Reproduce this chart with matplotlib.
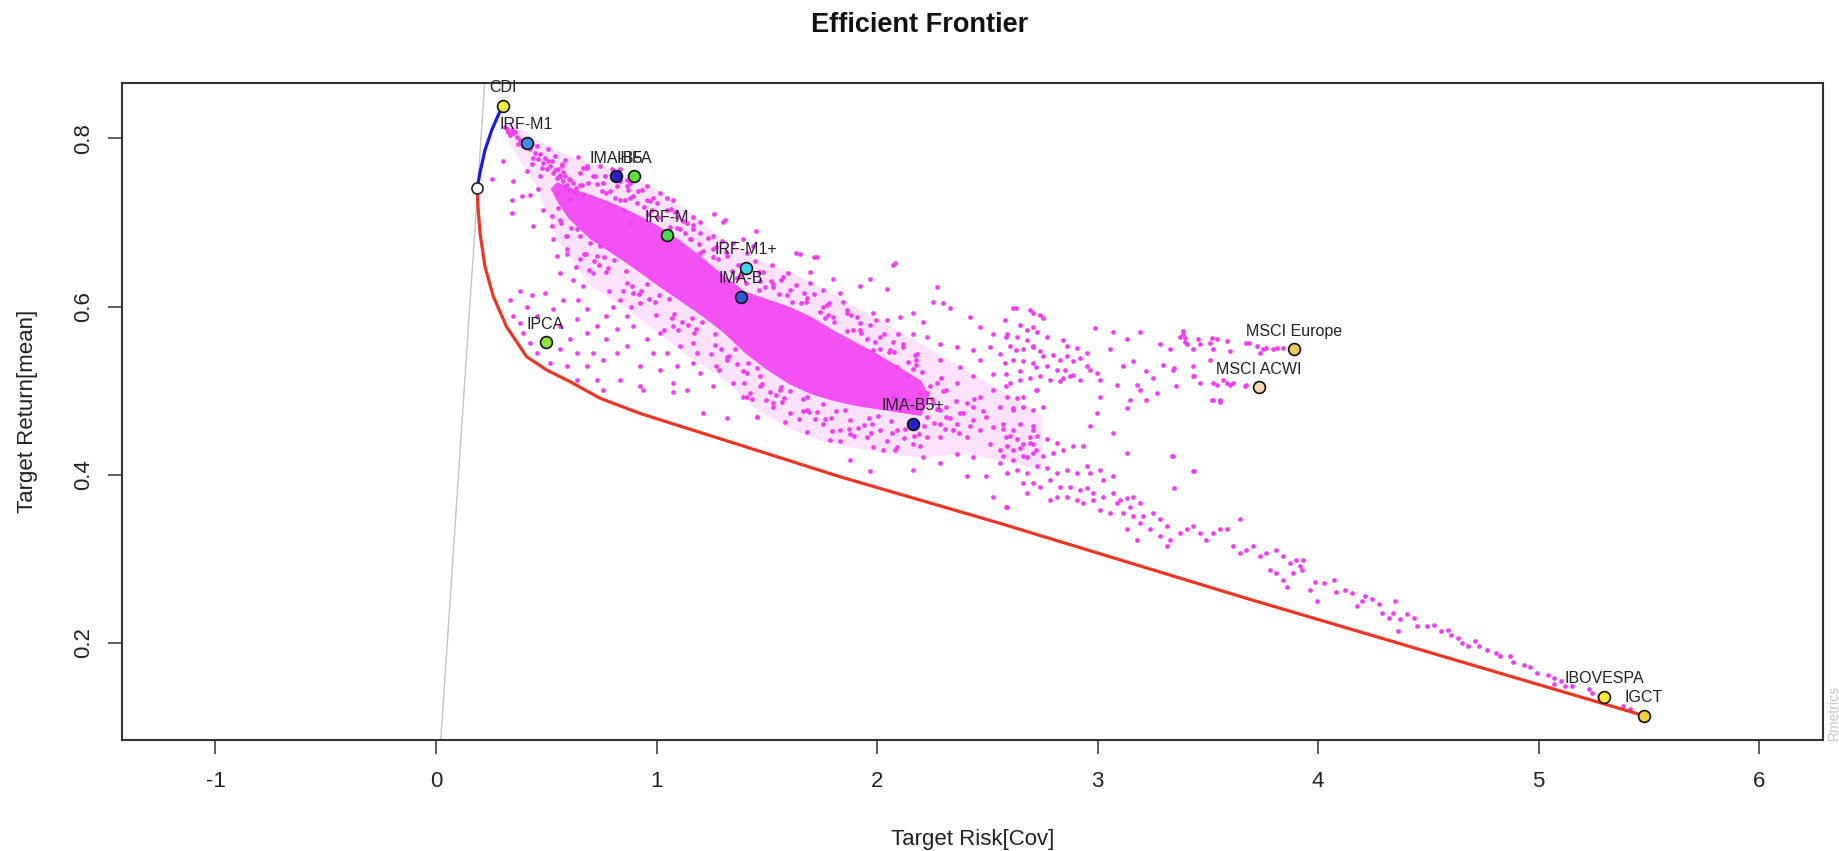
import matplotlib
matplotlib.use("Agg")
import matplotlib.pyplot as plt

plt.rcParams['font.family'] = ['Liberation Sans', 'DejaVu Sans']
plt.rcParams['axes.unicode_minus'] = False

# ---------------- data ----------------
asset_names = ['CDI', 'IRF-M1', 'IMA-B5', 'IHFA', 'IRF-M', 'IRF-M1+', 'IMA-B', 'IPCA',
               'IMA-B5+', 'MSCI Europe', 'MSCI ACWI', 'IBOVESPA', 'IGCT']
asset_risk = [0.302, 0.411, 0.815, 0.898, 1.046, 1.405, 1.383, 0.497,
              2.161, 3.893, 3.733, 5.298, 5.478]
asset_return = [0.8385, 0.795, 0.755, 0.755, 0.685, 0.646, 0.612, 0.5575,
                0.461, 0.549, 0.504, 0.136, 0.1136]
asset_colors = ['#F2EC3A', '#3F8FE8', '#2A1FC0', '#5BE03A', '#4FD84F', '#44D4EE', '#2F5AD8',
                '#8EE83A', '#2222C8', '#F0C860', '#F8D8B0', '#F8F030', '#F0D040']

minvar_risk, minvar_return = 0.187, 0.741

efficient_risk = [0.187, 0.200, 0.222, 0.253, 0.283, 0.302]
efficient_return = [0.741, 0.760, 0.786, 0.810, 0.828, 0.8385]

lower_risk = [0.187, 0.190, 0.200, 0.222, 0.260, 0.320, 0.411, 0.502, 0.608, 0.744,
              0.925, 1.379, 1.832, 2.558, 3.677, 5.478]
lower_return = [0.741, 0.720, 0.687, 0.6475, 0.612, 0.576, 0.5404, 0.5246, 0.5107, 0.491,
                0.473, 0.4354, 0.3977, 0.3423, 0.253, 0.1136]

riskfree_rate = 0.0
tangency_slope = 3.92

# Monte-Carlo portfolios (risk, return), read region by region
mc_upper_arm = [
    (0.313, 0.814), (0.321, 0.811), (0.343, 0.810), (0.358, 0.808), (0.328, 0.808), (0.336, 0.804),
    (0.351, 0.806), (0.366, 0.802), (0.381, 0.798), (0.373, 0.793), (0.396, 0.791), (0.426, 0.787),
    (0.449, 0.783), (0.441, 0.777), (0.464, 0.775), (0.487, 0.771), (0.479, 0.765), (0.502, 0.763),
    (0.517, 0.767), (0.532, 0.759), (0.547, 0.753), (0.562, 0.757), (0.577, 0.749), (0.592, 0.745),
    (0.607, 0.751), (0.509, 0.787), (0.539, 0.779), (0.456, 0.791), (0.419, 0.798), (0.404, 0.796),
    (0.434, 0.793), (0.471, 0.781), (0.494, 0.777), (0.524, 0.773), (0.554, 0.763), (0.570, 0.767),
    (0.585, 0.755), (0.622, 0.747), (0.637, 0.741), (0.653, 0.745), (0.630, 0.735), (0.668, 0.733),
    (0.607, 0.739), (0.585, 0.743),
]
mc_left_scatter = [
    (0.252, 0.752), (0.305, 0.773), (0.351, 0.749), (0.343, 0.727), (0.343, 0.711), (0.388, 0.731),
    (0.426, 0.733), (0.464, 0.740), (0.434, 0.769), (0.509, 0.773), (0.411, 0.761), (0.471, 0.755),
    (0.547, 0.735), (0.607, 0.727), (0.487, 0.715), (0.441, 0.696), (0.524, 0.696), (0.562, 0.703),
    (0.532, 0.680), (0.592, 0.684), (0.638, 0.692), (0.547, 0.660), (0.592, 0.662), (0.653, 0.656),
    (0.562, 0.640), (0.622, 0.632), (0.494, 0.616), (0.434, 0.614), (0.381, 0.618), (0.336, 0.608),
    (0.411, 0.600), (0.351, 0.589), (0.456, 0.589), (0.532, 0.597), (0.577, 0.608), (0.645, 0.608),
    (0.668, 0.624), (0.713, 0.640), (0.728, 0.660), (0.743, 0.672), (0.698, 0.676), (0.683, 0.597),
    (0.638, 0.585), (0.562, 0.577), (0.607, 0.561), (0.683, 0.569), (0.728, 0.577), (0.773, 0.589),
    (0.804, 0.600), (0.834, 0.608), (0.894, 0.616), (0.925, 0.604), (0.864, 0.589), (0.894, 0.577),
    (0.819, 0.573), (0.773, 0.561), (0.713, 0.545), (0.638, 0.545), (0.562, 0.549), (0.517, 0.533),
    (0.456, 0.545), (0.426, 0.557), (0.396, 0.569), (0.381, 0.581), (0.592, 0.529), (0.683, 0.529),
    (0.758, 0.537), (0.819, 0.545), (0.864, 0.553), (0.955, 0.561), (1.016, 0.569), (1.076, 0.577),
    (0.985, 0.545), (1.046, 0.545), (1.106, 0.553), (1.167, 0.557), (0.925, 0.529), (1.016, 0.525),
    (1.091, 0.529), (1.167, 0.533), (1.197, 0.521), (1.272, 0.529), (1.318, 0.537), (0.834, 0.513),
    (0.925, 0.505), (1.076, 0.509), (1.136, 0.501), (1.257, 0.505), (1.348, 0.509), (1.409, 0.521),
    (1.424, 0.497), (0.638, 0.513), (0.728, 0.513), (0.758, 0.501), (1.211, 0.473), (1.318, 0.467),
    (1.454, 0.469), (1.075, 0.499), (0.939, 0.501), (1.392, 0.493), (1.528, 0.481),
]
mc_upper_fringe = [
    (0.683, 0.767), (0.713, 0.755), (0.758, 0.747), (0.819, 0.743), (0.864, 0.743), (0.879, 0.747),
    (0.894, 0.731), (0.834, 0.727), (0.773, 0.735), (0.932, 0.739), (0.955, 0.727), (1.000, 0.723),
    (1.046, 0.715), (1.091, 0.707), (1.136, 0.699), (1.167, 0.692), (1.197, 0.688), (1.257, 0.684),
    (1.302, 0.701), (1.348, 0.676), (1.393, 0.680), (1.439, 0.672), (1.409, 0.664), (1.197, 0.664),
    (1.151, 0.680), (1.076, 0.727), (1.167, 0.707), (1.016, 0.735), (1.106, 0.692), (1.257, 0.668),
    (1.318, 0.660), (0.955, 0.743), (0.910, 0.723), (0.849, 0.715), (0.879, 0.699), (0.834, 0.763),
    (0.864, 0.751), (0.743, 0.767), (0.653, 0.759), (1.311, 0.703), (1.716, 0.659), (2.080, 0.652),
    (1.633, 0.664), (1.450, 0.690), (1.260, 0.710),
]
mc_band_edges = [
    (0.563, 0.754), (0.541, 0.762), (0.571, 0.770), (0.555, 0.717), (0.528, 0.708), (0.566, 0.699),
    (0.583, 0.774), (0.605, 0.752), (0.578, 0.760), (0.596, 0.669), (0.613, 0.693), (0.591, 0.684),
    (0.666, 0.765), (0.646, 0.778), (0.663, 0.744), (0.671, 0.662), (0.633, 0.647), (0.655, 0.684),
    (0.691, 0.747), (0.721, 0.755), (0.683, 0.765), (0.678, 0.663), (0.716, 0.654), (0.696, 0.644),
    (0.755, 0.738), (0.728, 0.746), (0.766, 0.755), (0.763, 0.659), (0.741, 0.650), (0.771, 0.641),
    (0.796, 0.763), (0.813, 0.729), (0.791, 0.737), (0.783, 0.618), (0.805, 0.655), (0.778, 0.646),
    (0.871, 0.739), (0.833, 0.749), (0.855, 0.727), (0.866, 0.628), (0.846, 0.618), (0.863, 0.642),
    (0.878, 0.729), (0.916, 0.738), (0.896, 0.751), (0.891, 0.624), (0.921, 0.615), (0.883, 0.600),
    (0.963, 0.710), (0.941, 0.718), (0.971, 0.726), (0.955, 0.627), (0.928, 0.618), (0.966, 0.609),
    (0.983, 0.729), (1.005, 0.707), (0.978, 0.715), (0.996, 0.590), (1.013, 0.614), (0.991, 0.605),
    (1.066, 0.716), (1.046, 0.729), (1.063, 0.695), (1.071, 0.587), (1.033, 0.572), (1.055, 0.609),
    (1.091, 0.694), (1.121, 0.702), (1.083, 0.712), (1.078, 0.591), (1.116, 0.582), (1.096, 0.572),
    (1.155, 0.680), (1.128, 0.688), (1.166, 0.697), (1.163, 0.587), (1.141, 0.578), (1.171, 0.569),
    (1.196, 0.700), (1.213, 0.666), (1.191, 0.674), (1.183, 0.545), (1.205, 0.582), (1.178, 0.573),
    (1.271, 0.671), (1.233, 0.681), (1.255, 0.659), (1.266, 0.554), (1.246, 0.544), (1.263, 0.568),
    (1.278, 0.656), (1.316, 0.665), (1.296, 0.678), (1.291, 0.549), (1.321, 0.540), (1.283, 0.525),
    (1.363, 0.634), (1.341, 0.642), (1.371, 0.650), (1.355, 0.550), (1.328, 0.541), (1.366, 0.532),
    (1.383, 0.650), (1.405, 0.628), (1.378, 0.636), (1.396, 0.509), (1.413, 0.533), (1.391, 0.524),
    (1.466, 0.641), (1.446, 0.654), (1.463, 0.620), (1.471, 0.505), (1.433, 0.490), (1.455, 0.527),
    (1.491, 0.623), (1.521, 0.631), (1.483, 0.641), (1.478, 0.508), (1.516, 0.499), (1.496, 0.489),
    (1.555, 0.615), (1.528, 0.623), (1.566, 0.632), (1.563, 0.504), (1.541, 0.495), (1.571, 0.486),
    (1.596, 0.640), (1.613, 0.606), (1.591, 0.614), (1.583, 0.463), (1.605, 0.500), (1.578, 0.491),
    (1.671, 0.616), (1.633, 0.626), (1.655, 0.604), (1.666, 0.476), (1.646, 0.466), (1.663, 0.490),
    (1.678, 0.606), (1.716, 0.615), (1.696, 0.628), (1.691, 0.475), (1.721, 0.466), (1.683, 0.451),
    (1.763, 0.586), (1.741, 0.594), (1.771, 0.602), (1.755, 0.484), (1.728, 0.475), (1.766, 0.466),
    (1.783, 0.604), (1.805, 0.582), (1.778, 0.590), (1.796, 0.452), (1.813, 0.476), (1.791, 0.467),
    (1.866, 0.592), (1.846, 0.605), (1.863, 0.571), (1.871, 0.455), (1.833, 0.440), (1.855, 0.477),
    (1.891, 0.572), (1.921, 0.580), (1.883, 0.590), (1.878, 0.465), (1.916, 0.456), (1.896, 0.446),
    (1.955, 0.561), (1.928, 0.569), (1.966, 0.578), (1.963, 0.468), (1.941, 0.459), (1.971, 0.450),
    (1.996, 0.584), (2.013, 0.550), (1.991, 0.558), (1.983, 0.433), (2.005, 0.470), (1.978, 0.461),
    (2.071, 0.558), (2.033, 0.568), (2.055, 0.546), (2.066, 0.450), (2.046, 0.440), (2.063, 0.464),
    (2.078, 0.546), (2.116, 0.555), (2.096, 0.568), (2.091, 0.453), (2.121, 0.444), (2.083, 0.429),
    (2.163, 0.526), (2.141, 0.534), (2.171, 0.542), (2.155, 0.464), (2.128, 0.455), (2.166, 0.446),
    (2.183, 0.544), (2.205, 0.522), (2.178, 0.530), (2.196, 0.434), (2.213, 0.458), (2.191, 0.449),
    (2.250, 0.490), (2.270, 0.478), (2.300, 0.500), (2.330, 0.468), (2.360, 0.488), (2.390, 0.474),
    (2.420, 0.458), (2.260, 0.462), (2.310, 0.455), (2.370, 0.450), (2.440, 0.490), (2.480, 0.476),
    (2.240, 0.505), (2.290, 0.515),
]
mc_mid_upper = [
    (1.522, 0.649), (1.651, 0.663), (1.726, 0.659), (2.074, 0.649), (1.696, 0.641), (1.802, 0.633),
    (1.968, 0.633), (2.043, 0.621), (1.923, 0.625), (1.832, 0.616), (1.757, 0.620), (1.681, 0.610),
    (2.270, 0.623), (2.255, 0.606), (2.300, 0.604), (2.330, 0.598), (2.164, 0.592), (2.210, 0.582),
    (2.104, 0.588), (2.043, 0.584), (1.983, 0.592), (1.908, 0.588), (1.862, 0.596), (2.421, 0.588),
    (2.466, 0.576), (2.527, 0.568), (2.632, 0.598), (2.708, 0.592), (2.678, 0.572), (2.587, 0.564),
    (2.512, 0.552), (2.436, 0.548), (2.361, 0.552), (2.285, 0.556), (2.225, 0.564), (2.164, 0.568),
    (2.119, 0.552), (2.179, 0.536), (2.285, 0.536), (2.376, 0.528), (2.466, 0.536), (2.557, 0.544),
    (2.632, 0.548), (2.708, 0.552), (2.723, 0.528), (2.647, 0.524), (2.587, 0.520), (2.527, 0.520),
    (2.436, 0.517), (2.361, 0.509), (2.315, 0.501), (2.527, 0.501), (2.587, 0.505), (2.662, 0.493),
    (2.723, 0.501), (2.617, 0.477), (2.557, 0.481), (2.466, 0.493), (2.406, 0.485), (2.708, 0.477),
    (1.530, 0.627), (1.606, 0.620), (1.470, 0.631), (1.575, 0.635), (1.757, 0.600), (1.802, 0.588),
    (1.923, 0.572), (2.013, 0.564), (2.059, 0.548), (1.983, 0.548), (2.089, 0.528), (2.134, 0.517),
]
mc_mid_lower = [
    (1.409, 0.493), (1.455, 0.469), (1.530, 0.485), (1.606, 0.473), (1.681, 0.477), (1.757, 0.461),
    (1.832, 0.453), (1.877, 0.449), (1.787, 0.441), (1.953, 0.445), (2.013, 0.453), (2.089, 0.433),
    (2.164, 0.437), (2.225, 0.445), (2.285, 0.445), (2.210, 0.421), (2.164, 0.406), (2.285, 0.414),
    (2.361, 0.425), (2.436, 0.421), (2.496, 0.398), (2.406, 0.398), (2.557, 0.414), (2.617, 0.429),
    (2.678, 0.421), (2.708, 0.437), (2.527, 0.374), (2.587, 0.362), (2.662, 0.390), (2.708, 0.390),
    (1.877, 0.418), (1.968, 0.404), (2.028, 0.429), (1.470, 0.517), (1.560, 0.501), (1.681, 0.493),
    (2.285, 0.477), (2.315, 0.469), (2.361, 0.461), (2.436, 0.465), (2.466, 0.453), (2.527, 0.457),
    (2.587, 0.445), (2.617, 0.453), (2.662, 0.437), (2.693, 0.445), (2.723, 0.429), (2.512, 0.437),
    (2.557, 0.429), (2.406, 0.445), (2.345, 0.453), (2.285, 0.461), (2.376, 0.473), (2.436, 0.481),
    (2.496, 0.469), (2.572, 0.461), (2.647, 0.461), (2.708, 0.453), (2.074, 0.493), (2.134, 0.489),
    (2.194, 0.497), (2.255, 0.485), (2.164, 0.481), (2.104, 0.477), (2.225, 0.469), (2.315, 0.481),
    (2.225, 0.497), (2.270, 0.509),
]
mc_right_branch = [
    (2.618, 0.598), (2.694, 0.596), (2.739, 0.590), (2.581, 0.584), (2.649, 0.578), (2.709, 0.576),
    (2.754, 0.586), (2.588, 0.568), (2.634, 0.564), (2.679, 0.560), (2.724, 0.570), (2.769, 0.564),
    (2.603, 0.553), (2.664, 0.549), (2.709, 0.553), (2.739, 0.547), (2.754, 0.541), (2.800, 0.543),
    (2.830, 0.537), (2.860, 0.541), (2.890, 0.535), (2.920, 0.539), (2.951, 0.545), (2.860, 0.553),
    (2.905, 0.551), (2.845, 0.560), (2.581, 0.533), (2.618, 0.537), (2.664, 0.535), (2.709, 0.533),
    (2.769, 0.529), (2.815, 0.525), (2.852, 0.525), (2.890, 0.519), (2.951, 0.529), (2.966, 0.525),
    (2.996, 0.521), (3.011, 0.513), (2.603, 0.509), (2.649, 0.513), (2.694, 0.515), (2.739, 0.517),
    (2.785, 0.513), (2.830, 0.511), (2.724, 0.501), (2.588, 0.493), (2.634, 0.491), (2.664, 0.481),
    (2.618, 0.479), (2.754, 0.481), (2.845, 0.515), (2.875, 0.517), (2.920, 0.513),
    (2.988, 0.574), (3.071, 0.570), (3.132, 0.562), (3.192, 0.570), (3.056, 0.549), (3.117, 0.529),
    (3.162, 0.535), (3.222, 0.523), (3.253, 0.515), (3.177, 0.507), (3.087, 0.507), (3.011, 0.493),
    (3.147, 0.489), (3.192, 0.501), (3.222, 0.489), (3.132, 0.479), (3.283, 0.555), (3.328, 0.549),
    (3.374, 0.564), (3.396, 0.558), (3.389, 0.568), (3.404, 0.556), (3.343, 0.525), (3.298, 0.531),
    (3.358, 0.505), (3.434, 0.549), (3.465, 0.555), (3.509, 0.557), (3.540, 0.562), (3.524, 0.549),
    (3.585, 0.559), (3.600, 0.547), (3.509, 0.537), (3.434, 0.517), (3.465, 0.509), (3.524, 0.509),
    (3.570, 0.513), (3.600, 0.507), (3.524, 0.489), (3.555, 0.489), (3.675, 0.557), (3.721, 0.553),
    (3.751, 0.549), (3.796, 0.549), (3.842, 0.551), (3.675, 0.507), (3.615, 0.509), (3.434, 0.529),
    (3.268, 0.497), (3.736, 0.545), (3.766, 0.551), (3.540, 0.507), (3.585, 0.509), (3.668, 0.505),
    (3.387, 0.571), (3.397, 0.563), (3.457, 0.561), (3.517, 0.563), (3.686, 0.557), (3.815, 0.551),
    (3.347, 0.527), (3.437, 0.517), (3.517, 0.489), (3.557, 0.487), (3.338, 0.422), (3.437, 0.404),
    (3.347, 0.384),
]
mc_lower_band = [
    (2.573, 0.454), (2.603, 0.446), (2.634, 0.442), (2.588, 0.434), (2.649, 0.432), (2.694, 0.438),
    (2.724, 0.446), (2.769, 0.442), (2.815, 0.438), (2.573, 0.422), (2.618, 0.418), (2.664, 0.422),
    (2.709, 0.426), (2.754, 0.422), (2.800, 0.426), (2.845, 0.430), (2.890, 0.434), (2.935, 0.434),
    (2.588, 0.402), (2.634, 0.406), (2.679, 0.402), (2.724, 0.410), (2.769, 0.408), (2.815, 0.402),
    (2.860, 0.406), (2.905, 0.402), (2.951, 0.410), (2.966, 0.402), (3.011, 0.406), (3.026, 0.394),
    (3.071, 0.398), (2.785, 0.394), (2.830, 0.386), (2.875, 0.386), (2.920, 0.382), (2.951, 0.384),
    (2.981, 0.378), (3.026, 0.374), (3.071, 0.378), (3.102, 0.370), (3.132, 0.372), (3.162, 0.374),
    (3.192, 0.366), (3.147, 0.362), (3.087, 0.366), (2.679, 0.378), (2.739, 0.386), (2.785, 0.370),
    (2.815, 0.374), (2.860, 0.374), (2.905, 0.370), (2.935, 0.366), (2.981, 0.370), (3.011, 0.358),
    (3.056, 0.355), (3.117, 0.355), (3.162, 0.351), (3.207, 0.351), (3.253, 0.355), (3.283, 0.347),
    (3.313, 0.339), (3.238, 0.335), (3.192, 0.343), (3.132, 0.335), (3.283, 0.327), (3.328, 0.323),
    (3.374, 0.331), (3.404, 0.335), (3.434, 0.339), (3.465, 0.331), (3.494, 0.323), (3.524, 0.331),
    (3.555, 0.335), (3.585, 0.335), (3.615, 0.315), (3.645, 0.307), (3.675, 0.311), (3.706, 0.315),
    (3.736, 0.303), (3.766, 0.307), (3.811, 0.311), (3.842, 0.303), (3.872, 0.295), (3.902, 0.299),
    (3.781, 0.287), (3.811, 0.283), (3.842, 0.275), (3.857, 0.267), (3.887, 0.283), (3.918, 0.291),
    (2.588, 0.362), (2.709, 0.458), (2.966, 0.458), (2.996, 0.473), (3.071, 0.450), (3.132, 0.426),
    (3.343, 0.422), (3.434, 0.404), (3.645, 0.347), (3.313, 0.315), (3.177, 0.323),
]
mc_tail = [
    (3.934, 0.299), (3.926, 0.287), (3.965, 0.263), (3.988, 0.273), (3.996, 0.250), (4.027, 0.271),
    (4.074, 0.275), (4.082, 0.261), (4.121, 0.263), (4.152, 0.260), (4.175, 0.244), (4.199, 0.250),
    (4.214, 0.256), (4.246, 0.252), (4.277, 0.246), (4.292, 0.236), (4.324, 0.230), (4.347, 0.250),
    (4.339, 0.236), (4.363, 0.214), (4.370, 0.228), (4.402, 0.234), (4.433, 0.230), (4.448, 0.220),
    (4.495, 0.220), (4.526, 0.222), (4.558, 0.214), (4.589, 0.216), (4.604, 0.210), (4.636, 0.206),
    (4.651, 0.200), (4.682, 0.196), (4.714, 0.202), (4.729, 0.196), (4.768, 0.192), (4.807, 0.188),
    (4.823, 0.184), (4.870, 0.184), (4.885, 0.178), (4.932, 0.174), (4.963, 0.172), (4.994, 0.164),
    (5.041, 0.162), (5.072, 0.158), (5.104, 0.155), (5.072, 0.151), (5.119, 0.149), (5.150, 0.149),
    (5.228, 0.145), (5.244, 0.141), (5.275, 0.137), (5.384, 0.125), (5.416, 0.121),
]
# outline of the region where the Monte-Carlo points overlap into a solid mass
mc_dense_upper = [(0.52, 0.740), (0.55, 0.748), (0.60, 0.742), (0.70, 0.733), (0.80, 0.723),
                  (0.90, 0.711), (1.00, 0.697), (1.10, 0.680), (1.20, 0.660), (1.30, 0.638),
                  (1.40, 0.618), (1.50, 0.609), (1.60, 0.600), (1.70, 0.588), (1.80, 0.572),
                  (1.90, 0.558), (2.00, 0.544), (2.10, 0.528), (2.20, 0.512), (2.24, 0.492)]
mc_dense_lower = [(2.20, 0.470), (2.10, 0.474), (2.00, 0.478), (1.90, 0.482), (1.80, 0.488),
                  (1.70, 0.496), (1.60, 0.508), (1.50, 0.525), (1.40, 0.545), (1.30, 0.570),
                  (1.20, 0.590), (1.10, 0.608), (1.00, 0.626), (0.90, 0.645), (0.80, 0.663),
                  (0.70, 0.680), (0.60, 0.705), (0.55, 0.725)]
mc_halo_upper = [(0.33, 0.822), (0.45, 0.800), (0.55, 0.785), (0.70, 0.770), (0.85, 0.758),
                 (1.00, 0.740), (1.15, 0.712), (1.30, 0.680), (1.45, 0.656), (1.60, 0.642),
                 (1.75, 0.622), (1.90, 0.600), (2.05, 0.578), (2.20, 0.555), (2.40, 0.525),
                 (2.60, 0.495), (2.75, 0.470)]
mc_halo_lower = [(2.75, 0.405), (2.60, 0.415), (2.40, 0.425), (2.20, 0.420), (2.05, 0.425),
                 (1.90, 0.432), (1.75, 0.440), (1.60, 0.455), (1.45, 0.478), (1.30, 0.515),
                 (1.15, 0.540), (1.00, 0.570), (0.85, 0.600), (0.70, 0.625), (0.55, 0.680),
                 (0.45, 0.745), (0.33, 0.795)]

x_ticks = [-1, 0, 1, 2, 3, 4, 5, 6]
y_ticks = [0.2, 0.4, 0.6, 0.8]

# ---------------- plot ----------------
W, H = 1839, 851
fig = plt.figure(figsize=(W / 100, H / 100), dpi=100)
ax = fig.add_axes([122 / W, 1 - 740 / H, (1823 - 122) / W, (740 - 82.7) / H])
ax.set_xlim(-1.424, 6.290)
ax.set_ylim(0.0847, 0.8662)

mag = '#F23DF2'
halo = mc_halo_upper + mc_halo_lower
ax.fill([p[0] for p in halo], [p[1] for p in halo], color=mag, alpha=0.15, lw=0, zorder=1)
dense = mc_dense_upper + mc_dense_lower
ax.fill([p[0] for p in dense], [p[1] for p in dense], color=mag, alpha=0.88, lw=0, zorder=1)

cloud = (mc_upper_arm + mc_left_scatter + mc_upper_fringe + mc_band_edges + mc_mid_upper +
         mc_mid_lower + mc_right_branch + mc_lower_band + mc_tail)
ax.plot([p[0] for p in cloud], [p[1] for p in cloud], 'o', color=mag, ms=3.4, mew=0, zorder=2)

ax.axline((0, riskfree_rate), slope=tangency_slope, color='#C4C4C4', lw=1.0, zorder=2.5)

ax.plot(lower_risk, lower_return, color='#EE3524', lw=2.3, zorder=3, solid_capstyle='round')
ax.plot(efficient_risk, efficient_return, color='#1A1AE6', lw=2.3, zorder=3, solid_capstyle='round')
ax.plot([minvar_risk], [minvar_return], 'o', ms=8, mfc='white', mec='#222222', mew=1.2, zorder=4)

for n, xr, yr, c in zip(asset_names, asset_risk, asset_return, asset_colors):
    ax.plot([xr], [yr], 'o', ms=8.5, mfc=c, mec='#111111', mew=1.2, zorder=4)
    ax.annotate(n, (xr, yr), xytext=(0, 13), textcoords='offset points', ha='center',
                va='center', fontsize=11.5, color='#222222', zorder=5)

ax.set_xticks(x_ticks)
ax.set_xticklabels([str(t) for t in x_ticks])
ax.set_yticks(y_ticks)
ax.set_yticklabels([f'{t:.1f}' for t in y_ticks])
ax.tick_params(axis='both', direction='out', length=10, width=1.1, labelsize=16,
               color='#333333', labelcolor='#222222')
ax.tick_params(axis='x', pad=12)
ax.tick_params(axis='y', pad=10)
for lab in ax.get_yticklabels():
    lab.set_rotation(90)
    lab.set_va('center')
for s in ax.spines.values():
    s.set_linewidth(1.5)
    s.set_color('#333333')

ax.set_xlabel('Target Risk[Cov]', fontsize=16, color='#222222')
ax.xaxis.set_label_coords(0.5, -(840 - 740) / (740 - 82.7))
ax.xaxis.label.set_va('center')
ax.set_ylabel('Target Return[mean]', fontsize=16, color='#222222')
ax.yaxis.set_label_coords(-(122 - 28) / (1823 - 122), 0.5)
ax.yaxis.label.set_va('center')

fig.text(0.5, 1 - 25 / H, 'Efficient Frontier', ha='center', va='center',
         fontsize=19.5, fontweight='bold', color='#111111')
fig.text(1834 / W, 1 - 740 / H, 'Rmetrics', rotation=90, ha='center', va='bottom',
         fontsize=10, color='#C8C8C8')

fig.savefig('out.png', dpi=100)
